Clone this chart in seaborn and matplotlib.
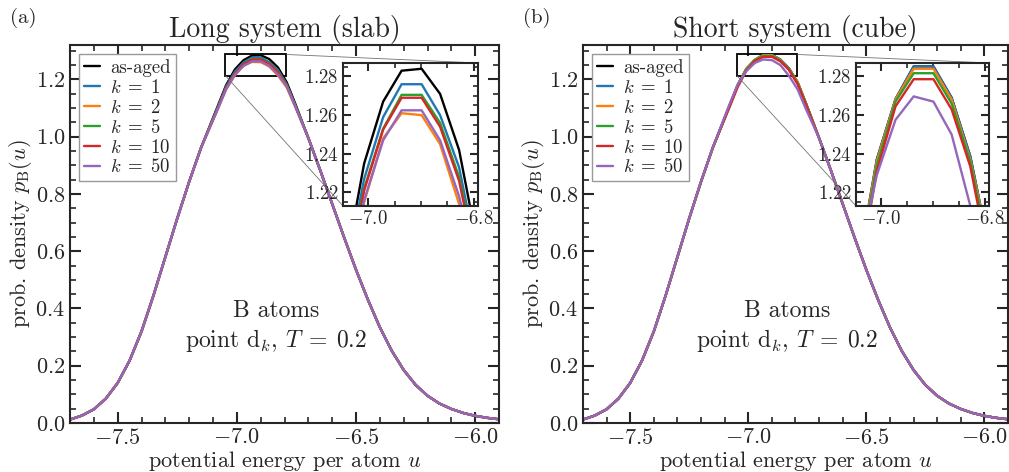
import matplotlib
matplotlib.use("Agg")
import matplotlib.pyplot as plt
import seaborn as sns
import pandas as pd
from matplotlib.ticker import MultipleLocator
from mpl_toolkits.axes_grid1.inset_locator import mark_inset

# grid of energies (tails read coarse, peak region)
u_tail_left = [-7.70, -7.65, -7.60, -7.55, -7.50, -7.45, -7.40, -7.35, -7.30, -7.25, -7.20, -7.15]
u_peak = [-7.081, -7.045, -7.008, -6.972, -6.937, -6.899, -6.864, -6.828, -6.791, -6.755]
u_tail_right = [-6.70, -6.65, -6.60, -6.55, -6.50, -6.45, -6.40, -6.35, -6.30, -6.25,
                -6.20, -6.15, -6.10, -6.05, -6.00, -5.95, -5.90]

tail_left = [0.012, 0.026, 0.048, 0.085, 0.140, 0.218, 0.320, 0.445, 0.580, 0.715, 0.843, 0.962]
tail_right = [0.995, 0.882, 0.765, 0.648, 0.535, 0.430, 0.334, 0.252, 0.185, 0.133,
              0.095, 0.068, 0.049, 0.035, 0.025, 0.018, 0.013]

series = ["as-aged", r"$k\;=\;1$", r"$k\;=\;2$", r"$k\;=\;5$", r"$k\;=\;10$", r"$k\;=\;50$"]
colors = ["black", "#1f77b4", "#ff7f0e", "#2ca02c", "#d62728", "#9467bd"]

# (a) long system (slab), peak values
slab_aged = [1.105, 1.180, 1.235, 1.267, 1.283, 1.284, 1.271, 1.242, 1.190, 1.115]
slab_k1 = [1.101, 1.175, 1.227, 1.259, 1.276, 1.276, 1.260, 1.233, 1.183, 1.110]
slab_k2 = [1.094, 1.165, 1.215, 1.248, 1.261, 1.260, 1.245, 1.214, 1.172, 1.104]
slab_k5 = [1.098, 1.171, 1.222, 1.253, 1.2705, 1.2705, 1.256, 1.228, 1.180, 1.108]
slab_k10 = [1.097, 1.170, 1.221, 1.2525, 1.269, 1.269, 1.254, 1.226, 1.178, 1.107]
slab_k50 = [1.095, 1.166, 1.216, 1.247, 1.2625, 1.2625, 1.247, 1.218, 1.176, 1.106]

# (b) short system (cube), peak values
cube_aged = [1.105, 1.180, 1.237, 1.2683, 1.2852, 1.2852, 1.269, 1.2386, 1.190, 1.115]
cube_k1 = [1.105, 1.180, 1.237, 1.2683, 1.2852, 1.2852, 1.269, 1.2386, 1.190, 1.115]
cube_k2 = [1.104, 1.179, 1.236, 1.2680, 1.2840, 1.2840, 1.268, 1.2370, 1.190, 1.114]
cube_k5 = [1.103, 1.177, 1.234, 1.2670, 1.2817, 1.2817, 1.266, 1.2360, 1.187, 1.112]
cube_k10 = [1.100, 1.173, 1.231, 1.2645, 1.2786, 1.2786, 1.263, 1.2334, 1.183, 1.110]
cube_k50 = [1.110, 1.182, 1.229, 1.2576, 1.2697, 1.2670, 1.250, 1.2130, 1.165, 1.095]

slab_peaks = [slab_aged, slab_k1, slab_k2, slab_k5, slab_k10, slab_k50]
cube_peaks = [cube_aged, cube_k1, cube_k2, cube_k5, cube_k10, cube_k50]


def make_df(peaks):
    rows = []
    for name, pk in zip(series, peaks):
        uu = u_tail_left + u_peak + u_tail_right
        pp = tail_left + pk + tail_right
        for a, b in zip(uu, pp):
            rows.append((name, a, b))
    return pd.DataFrame(rows, columns=["series", "u", "p"])


sns.set_style("ticks")
plt.rcParams["font.family"] = "serif"
plt.rcParams["font.serif"] = ["cmr10", "DejaVu Serif"]
plt.rcParams["mathtext.fontset"] = "cm"
plt.rcParams["axes.formatter.use_mathtext"] = True
plt.rcParams["axes.unicode_minus"] = True

palette = dict(zip(series, colors))

fig = plt.figure(figsize=(10.09, 4.72), dpi=100)
panels = [
    ("(a)", "Long system (slab)", slab_peaks, [0.0694, 0.1038, 0.4252, 0.8008], [0.3400, 0.5636, 0.1338, 0.3030]),
    ("(b)", "Short system (cube)", cube_peaks, [0.5778, 0.1038, 0.4212, 0.8008], [0.8484, 0.5636, 0.1318, 0.3030]),
]

for tag, title, peaks, rect, inrect in panels:
    df = make_df(peaks)
    ax = fig.add_axes(rect)
    sns.lineplot(data=df, x="u", y="p", hue="series", hue_order=series, palette=palette,
                 lw=1.7, ax=ax, estimator=None)
    ax.set_xlim(-7.70, -5.90)
    ax.set_ylim(0.0, 1.32)
    ax.xaxis.set_major_locator(MultipleLocator(0.5))
    ax.xaxis.set_minor_locator(MultipleLocator(0.1))
    ax.yaxis.set_major_locator(MultipleLocator(0.2))
    ax.yaxis.set_minor_locator(MultipleLocator(0.05))
    ax.tick_params(which="both", direction="in", top=True, right=True, labelsize=16)
    ax.tick_params(which="major", length=8, width=1.5)
    ax.tick_params(which="minor", length=4, width=1.2)
    for s in ax.spines.values():
        s.set_linewidth(1.5)
    ax.set_xlabel("potential energy per atom $u$", fontsize=16, labelpad=1)
    ax.set_ylabel(r"prob. density $p_{\rm B}(u)$", fontsize=16, labelpad=1)
    ax.set_title(title, fontsize=20, pad=6)
    handles, labels = ax.get_legend_handles_labels()
    ax.legend(handles, labels, loc="upper left", fontsize=13.5, fancybox=False, framealpha=1,
              edgecolor="0.6", handlelength=0.85, handletextpad=0.55, borderpad=0.25,
              labelspacing=0.1, borderaxespad=0.5)
    ax.text(-6.835, 0.337, "B atoms\npoint d$_k$, $T\\;=\\:0.2$", ha="center", va="center",
            fontsize=17, linespacing=1.25)
    fig.text(rect[0] - 0.059, 0.962, tag, fontsize=15, va="center")

    axins = fig.add_axes(inrect)
    sns.lineplot(data=df, x="u", y="p", hue="series", hue_order=series, palette=palette,
                 lw=1.7, ax=axins, estimator=None, legend=False)
    axins.set_xlim(-7.048, -6.792)
    axins.set_ylim(1.213, 1.287)
    axins.xaxis.set_major_locator(MultipleLocator(0.2))
    axins.xaxis.set_minor_locator(MultipleLocator(0.05))
    axins.yaxis.set_major_locator(MultipleLocator(0.02))
    axins.yaxis.set_minor_locator(MultipleLocator(0.005))
    axins.tick_params(which="both", direction="in", top=True, right=True, labelsize=13.5, pad=3)
    axins.tick_params(which="major", length=6, width=1.5)
    axins.tick_params(which="minor", length=3.5, width=1.2)
    axins.set_xlabel("")
    axins.set_ylabel("")
    for s in axins.spines.values():
        s.set_linewidth(1.5)
    pp, p1, p2 = mark_inset(ax, axins, loc1=1, loc2=3, fc="none", ec="black", lw=1.3)
    for c in (p1, p2):
        c.set_color("0.45")
        c.set_linewidth(0.6)

fig.savefig("out.png", dpi=100)
